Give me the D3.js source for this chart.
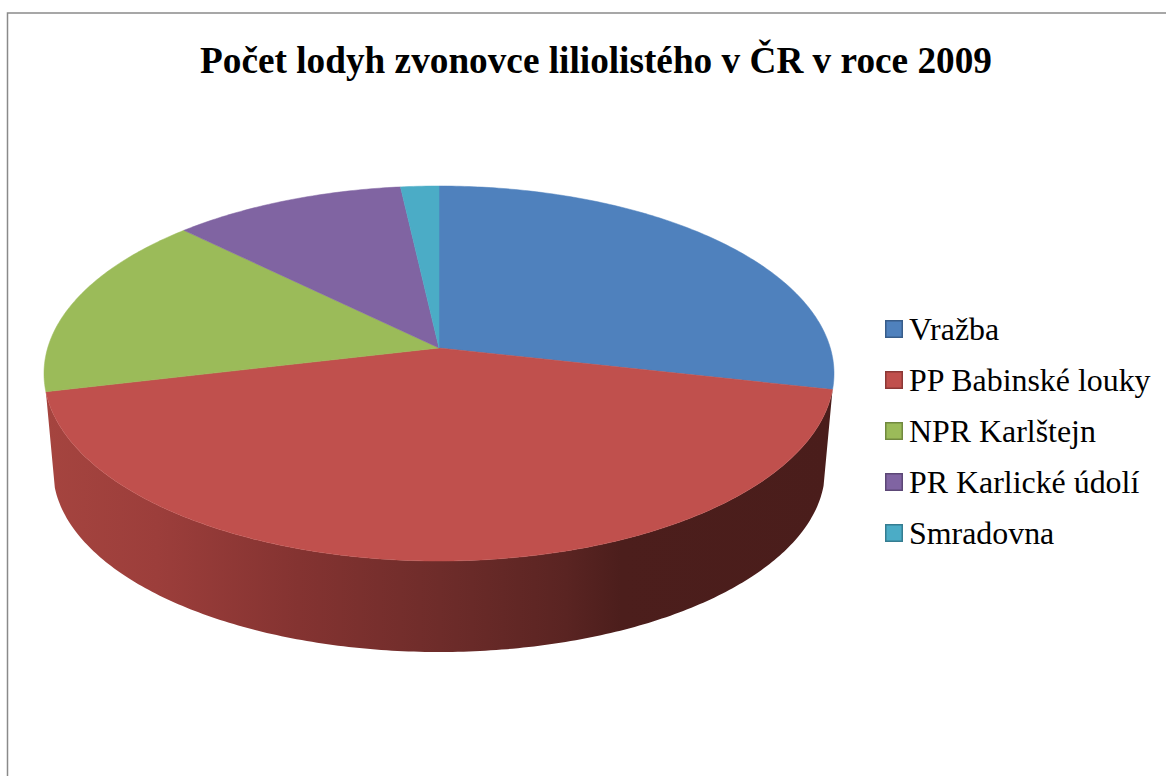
<!DOCTYPE html>
<html><head><meta charset="utf-8">
<script src="https://cdn.jsdelivr.net/npm/d3@7/dist/d3.min.js"></script>
<style>html,body{margin:0;padding:0;background:#fff}svg{display:block}</style>
</head><body><svg id="c" width="1166" height="776"></svg>
<script>
const title = "Počet lodyh zvonovce liliolistého v ČR v roce 2009";
const categories = ["Vražba","PP Babinské louky","NPR Karlštejn","PR Karlické údolí","Smradovna"];
const values = [1600,2400,900,610,100];
const colors = ["#4f81bd","#c0504d","#9bbb59","#8064a2","#4bacc6"];
const swatchBorders = ["#385d8a","#8c3836","#71893f","#5c4776","#357d91"];

const svg = d3.select("#c");
const W = 1166, H = 776;
svg.append("rect").attr("width",W).attr("height",H).attr("fill","#fff");
svg.append("path").attr("d",`M7.5 ${H} V13 H${W} `).attr("fill","none").attr("stroke","#8a8a8a").attr("stroke-width",1.5);

svg.append("text").attr("x",596).attr("y",73).attr("text-anchor","middle")
  .attr("font-family","Liberation Serif").attr("font-weight","bold").attr("font-size",37.25).attr("fill","#000").text(title);

// geometry of the tilted pie
const top_ = {cx:439, cy:373.5, rx:395, ry:187.5};
const low  = {cx:439, cy:470, rx:386, ry:182};
const apexShift = -0.136;
function proj(theta, e){
  const u = Math.sin(theta), v = -Math.cos(theta);
  const a = apexShift, d = 1 + a*v;
  return [e.cx + e.rx*u*Math.sqrt(1-a*a)/d, e.cy + e.ry*(v+a)/d];
}
const apex = [top_.cx, top_.cy + top_.ry*apexShift];
const arcs = d3.pie().sort(null).value(d=>d)(values);
const line = d3.line();
const samples = (a0,a1) => { const n = Math.max(4,Math.ceil((a1-a0)*80)); return d3.range(n+1).map(i=>a0+(a1-a0)*i/n); };

// side wall of the large front slice
const defs = svg.append("defs");
const grad = defs.append("linearGradient").attr("id","wall").attr("gradientUnits","userSpaceOnUse")
  .attr("x1",47).attr("x2",833).attr("y1",0).attr("y2",0);
[[0,"#a5443f"],[0.14,"#9c3e3b"],[0.32,"#843331"],[0.5,"#6e2c2a"],[0.66,"#5a2422"],[0.73,"#4c1e1c"],[1,"#4a1d1b"]]
  .forEach(s=>grad.append("stop").attr("offset",s[0]).attr("stop-color",s[1]));
const front = arcs[1];
const ts = samples(front.startAngle, front.endAngle);
svg.append("path").attr("d", line(ts.map(t=>proj(t,top_)).concat(ts.slice().reverse().map(t=>proj(t,low))))+"Z")
  .attr("fill","url(#wall)");

// top faces
svg.selectAll("path.slice").data(arcs).join("path").attr("class","slice")
  .attr("d",d=>line([apex,...samples(d.startAngle,d.endAngle).map(t=>proj(t,top_))])+"Z")
  .attr("fill",(d,i)=>colors[i]).attr("stroke",(d,i)=>colors[i]).attr("stroke-width",0.5);

// legend
const yRow = d3.scalePoint().domain(categories).range([329,533]);
const leg = svg.selectAll("g.leg").data(categories).join("g").attr("class","leg")
  .attr("transform",d=>`translate(885,${yRow(d)})`);
leg.append("rect").attr("x",0.75).attr("y",-8.25).attr("width",16.5).attr("height",16.5)
  .attr("fill",(d,i)=>colors[i]).attr("stroke",(d,i)=>swatchBorders[i]).attr("stroke-width",1.5);
leg.append("text").attr("x",24).attr("y",11).attr("font-family","Liberation Serif").attr("font-size",31.9).attr("fill","#000").text(d=>d);
</script></body></html>
